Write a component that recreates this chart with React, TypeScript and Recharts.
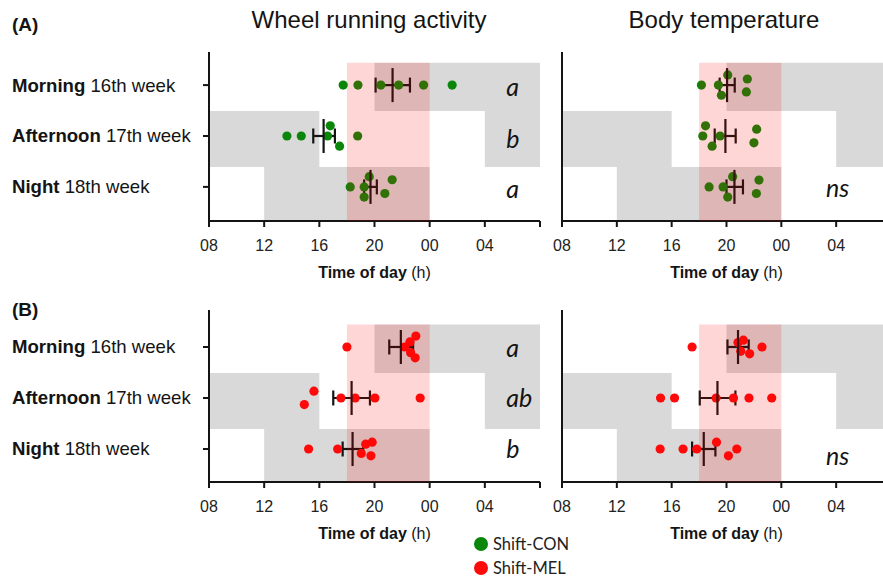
import React from 'react';
import { ScatterChart, Scatter, XAxis, YAxis, ReferenceArea, ErrorBar, Label } from 'recharts';

// Clock hours on a 08:00 -> 08:00 (next day) scale; 24 = midnight, 32 = 08:00 next day
const hourTicks = [8, 12, 16, 20, 24, 28, 32];

// Schedule rows, top to bottom
const rowIds = [3, 2, 1];
const rowBold = ['Morning', 'Afternoon', 'Night'];
const rowWeek = ['16th week', '17th week', '18th week'];

// Lights-off spans for each schedule row
const darkSpans = [
  [[20, 32]],
  [[8, 16], [28, 32]],
  [[12, 24]],
];
// Highlighted window
const windowStart = 18;
const windowEnd = 24;

// (A) Shift-CON — wheel running activity
const wheelCon = [
  [17.73, 18.8, 20.46, 21.75, 23.56, 25.63],
  [13.65, 14.69, 16.6, 16.79, 17.47, 18.78],
  [18.24, 19.25, 19.62, 19.25, 20.75, 21.28],
];
const wheelConSwarm = [
  [0, 0, 0, 0, 0, 0],
  [0, 0, 0, 1, -1, 0],
  [0, 0, 1, -1, -0.65, 0.7],
];
const wheelConMean = [21.31, 16.31, 19.71];
const wheelConLo = [20.08, 15.56, 19.25];
const wheelConHi = [22.57, 17.13, 20.17];
const wheelConLetters = ['a', 'b', 'a'];

// (A) Shift-CON — body temperature
const tempCon = [
  [18.17, 19.41, 20.09, 19.63, 21.52, 21.45],
  [18.47, 18.27, 18.95, 19.53, 22.2, 22.0],
  [18.73, 19.75, 20.45, 20.09, 22.37, 22.18],
];
const tempConSwarm = [
  [0, 0, 1, -1, 0.6, -0.67],
  [1, 0, -1, 0, 0.67, -0.67],
  [0, 0, 1, -1, 0.67, -0.65],
];
const tempConMean = [20.04, 19.92, 20.58];
const tempConLo = [19.5, 19.14, 20.0];
const tempConHi = [20.6, 20.67, 21.2];
const tempConLetters = ['', '', 'ns'];

// (B) Shift-MEL — wheel running activity
const wheelMel = [
  [18.0, 22.18, 22.57, 23.0, 22.62, 22.95],
  [14.91, 15.61, 17.57, 18.6, 20.03, 23.31],
  [15.22, 17.33, 19.04, 19.36, 19.83, 19.74],
];
const wheelMelSwarm = [
  [0, 0, 0.5, 1.07, -0.56, -1.06],
  [-0.65, 0.67, 0, 0, 0, 0],
  [0, 0, -0.43, 0.47, 0.67, -0.67],
];
const wheelMelMean = [21.91, 18.34, 18.41];
const wheelMelLo = [21.07, 17.01, 17.69];
const wheelMelHi = [22.8, 19.67, 19.18];
const wheelMelLetters = ['a', 'ab', 'b'];

// (B) Shift-MEL — body temperature
const tempMel = [
  [17.49, 20.84, 21.23, 21.04, 21.69, 22.59],
  [15.19, 16.21, 19.24, 20.51, 21.64, 23.3],
  [15.16, 16.83, 17.83, 19.27, 20.75, 20.14],
];
const tempMelSwarm = [
  [0, 0.43, 0.67, -0.43, -0.67, 0],
  [0, 0, 0, 0, 0, 0],
  [0, 0, 0, 0.67, 0, -0.67],
];
const tempMelMean = [20.84, 19.34, 18.34];
const tempMelLo = [20.07, 18.05, 17.49];
const tempMelHi = [21.62, 20.65, 19.19];
const tempMelLetters = ['', '', 'ns'];

const GREEN = '#0a870a';
const RED = '#ff0a0a';
const INK = '#141414';
const SANS = '"Liberation Sans", Arial, sans-serif';
const HUMANIST = 'Lato, "Open Sans", sans-serif';

// vertical spacing between swarm lanes (y units)
const LANE = 0.2;
// row band edges (y units)
const BAND_TOP = 3.44;
const BAND_MID_HI = 2.49;
const BAND_MID_LO = 1.39;

// the closing 08 tick of each day axis carries no label
const fmtHour = (h: number) => (h >= 32 ? '' : String(h % 24).padStart(2, '0'));

const RowLabel = (props: any) => {
  const idx = rowIds.indexOf(props.payload.value);
  if (idx < 0) return <g />;
  return (
    <text x={12} y={props.y + 6.5} fontSize={18.6} fontFamily={SANS} fill={INK}>
      <tspan fontWeight={700}>{rowBold[idx]}</tspan>
      <tspan>{' ' + rowWeek[idx]}</tspan>
    </text>
  );
};

const AxisTitle = (props: any) => {
  const vb = props.viewBox || {};
  return (
    <text x={vb.x + vb.width / 2} y={vb.y + 57} textAnchor="middle" fontSize={16} fontFamily={SANS} fill={INK}>
      <tspan fontWeight={700}>Time of day</tspan>
      <tspan>{' (h)'}</tspan>
    </text>
  );
};

type PanelProps = {
  left: number;
  top: number;
  width: number;
  height: number;
  marginTop: number;
  axisWidth: number;
  yDomain: [number, number];
  values: number[][];
  swarm: number[][];
  mean: number[];
  lo: number[];
  hi: number[];
  letters: string[];
  letterHour: number;
  letterDy: number[];
  color: string;
  rowLabels: boolean;
};

function Panel(p: PanelProps) {
  const points = rowIds.flatMap((rv, r) =>
    p.values[r].map((h, i) => ({ x: h, y: rv + p.swarm[r][i] * LANE }))
  );
  const means = rowIds.map((rv, r) => ({
    x: p.mean[r],
    y: rv,
    ex: [p.mean[r] - p.lo[r], p.hi[r] - p.mean[r]],
  }));
  const letterData = rowIds
    .map((rv, r) => ({ x: p.letterHour, y: rv, t: p.letters[r], dy: p.letterDy[r] }))
    .filter((d) => d.t);
  const bandEdges: [number, number][] = [
    [BAND_MID_HI, BAND_TOP],
    [BAND_MID_LO, BAND_MID_HI],
    [p.yDomain[0], BAND_MID_LO],
  ];

  return (
    <div style={{ position: 'absolute', left: p.left, top: p.top }}>
      <ScatterChart width={p.width} height={p.height} margin={{ top: p.marginTop, right: 20, bottom: 0, left: 0 }}>
        <XAxis
          type="number"
          dataKey="x"
          domain={[8, 32]}
          ticks={hourTicks}
          interval={0}
          allowDataOverflow
          tickFormatter={fmtHour}
          height={69}
          tickSize={6}
          tickMargin={13}
          axisLine={{ stroke: INK, strokeWidth: 2 }}
          tickLine={{ stroke: INK, strokeWidth: 2 }}
          tick={{ fill: '#222', fontSize: 16, fontFamily: SANS }}
        >
          <Label content={AxisTitle} />
        </XAxis>
        <YAxis
          type="number"
          dataKey="y"
          domain={p.yDomain}
          ticks={[1, 2, 3]}
          interval={0}
          allowDataOverflow
          width={p.axisWidth}
          tickSize={6}
          axisLine={{ stroke: INK, strokeWidth: 2 }}
          tickLine={{ stroke: INK, strokeWidth: 2 }}
          tick={p.rowLabels ? RowLabel : false}
        />
        {darkSpans.flatMap((spans, r) =>
          spans.map(([a, b], k) => (
            <ReferenceArea
              key={`dark-${r}-${k}`}
              x1={a}
              x2={b}
              y1={bandEdges[r][0]}
              y2={bandEdges[r][1]}
              fill="#d9d9d9"
              fillOpacity={1}
              stroke="none"
              zIndex={100}
            />
          ))
        )}
        <Scatter
          data={points}
          isAnimationActive={false}
          zIndex={600}
          shape={(s: any) => <circle cx={s.cx} cy={s.cy} r={4.6} fill={p.color} />}
        />
        <Scatter
          data={means}
          isAnimationActive={false}
          zIndex={610}
          shape={(s: any) => (
            <line x1={s.cx} x2={s.cx} y1={s.cy - 17} y2={s.cy + 17} stroke={INK} strokeWidth={2.2} />
          )}
        >
          <ErrorBar dataKey="ex" direction="x" width={7.5} stroke={INK} strokeWidth={2.2} isAnimationActive={false} />
        </Scatter>
        <ReferenceArea
          x1={windowStart}
          x2={windowEnd}
          y1={p.yDomain[0]}
          y2={BAND_TOP}
          fill="#ff0000"
          fillOpacity={0.16}
          stroke="none"
          zIndex={700}
        />
        <Scatter
          data={letterData}
          isAnimationActive={false}
          zIndex={800}
          shape={(s: any) => (
            <text
              x={s.cx}
              y={s.cy + s.payload.dy}
              fontSize={25}
              fontStyle="italic"
              fontFamily={HUMANIST}
              fill={INK}
            >
              {s.payload.t}
            </text>
          )}
        />
      </ScatterChart>
    </div>
  );
}

export default function App() {
  return (
    <div
      style={{
        position: 'absolute',
        left: 0,
        top: 0,
        width: 883,
        height: 579,
        overflow: 'hidden',
        background: '#fff',
      }}
    >
      <Panel
        left={0}
        top={0}
        width={560}
        height={290}
        marginTop={52}
        axisWidth={209}
        yDomain={[0.33, 3.65]}
        values={wheelCon}
        swarm={wheelConSwarm}
        mean={wheelConMean}
        lo={wheelConLo}
        hi={wheelConHi}
        letters={wheelConLetters}
        letterHour={29.55}
        letterDy={[11, 12, 11]}
        color={GREEN}
        rowLabels
      />
      <Panel
        left={545}
        top={0}
        width={366}
        height={290}
        marginTop={52}
        axisWidth={17}
        yDomain={[0.33, 3.65]}
        values={tempCon}
        swarm={tempConSwarm}
        mean={tempConMean}
        lo={tempConLo}
        hi={tempConHi}
        letters={tempConLetters}
        letterHour={27.26}
        letterDy={[10, 10, 10]}
        color={GREEN}
        rowLabels={false}
      />
      <Panel
        left={0}
        top={258}
        width={560}
        height={293}
        marginTop={52}
        axisWidth={209}
        yDomain={[0.353, 3.725]}
        values={wheelMel}
        swarm={wheelMelSwarm}
        mean={wheelMelMean}
        lo={wheelMelLo}
        hi={wheelMelHi}
        letters={wheelMelLetters}
        letterHour={29.55}
        letterDy={[10, 9, 9]}
        color={RED}
        rowLabels
      />
      <Panel
        left={545}
        top={258}
        width={366}
        height={293}
        marginTop={52}
        axisWidth={17}
        yDomain={[0.353, 3.725]}
        values={tempMel}
        swarm={tempMelSwarm}
        mean={tempMelMean}
        lo={tempMelLo}
        hi={tempMelHi}
        letters={tempMelLetters}
        letterHour={27.26}
        letterDy={[10, 10, 16]}
        color={RED}
        rowLabels={false}
      />
      <svg
        width={883}
        height={579}
        style={{ position: 'absolute', left: 0, top: 0, pointerEvents: 'none' }}
      >
        <text x={12} y={31} fontSize={19} fontWeight={700} fontFamily={SANS} fill={INK}>(A)</text>
        <text x={12} y={316} fontSize={19} fontWeight={700} fontFamily={SANS} fill={INK}>(B)</text>
        <text x={369} y={28} fontSize={24} textAnchor="middle" fontFamily={SANS} fill={INK}>
          Wheel running activity
        </text>
        <text x={724} y={28} fontSize={24} textAnchor="middle" fontFamily={SANS} fill={INK}>
          Body temperature
        </text>
        <circle cx={481} cy={544} r={7} fill={GREEN} />
        <text x={493} y={549.5} fontSize={16.5} fontFamily={HUMANIST} fill="#222">Shift-CON</text>
        <circle cx={481} cy={568} r={7} fill={RED} />
        <text x={493} y={573.5} fontSize={16.5} fontFamily={HUMANIST} fill="#222">Shift-MEL</text>
      </svg>
    </div>
  );
}
